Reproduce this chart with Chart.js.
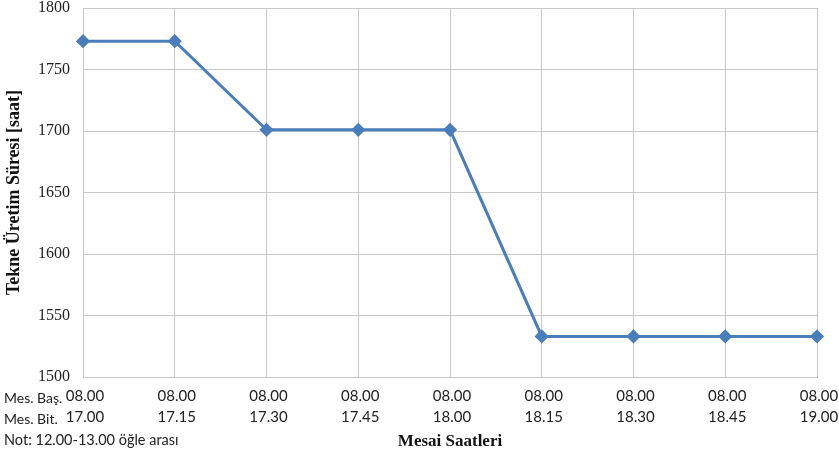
<!DOCTYPE html>
<html>
<head>
<meta charset="utf-8">
<script src="https://cdn.jsdelivr.net/npm/chart.js@4/dist/chart.umd.min.js"></script>
<style>
  html, body { margin: 0; padding: 0; background: #fff; }
</style>
</head>
<body>
<canvas id="chart" width="839" height="457"></canvas>
<script>
// Data
const startTimes = ["08.00", "08.00", "08.00", "08.00", "08.00", "08.00", "08.00", "08.00", "08.00"];
const endTimes = ["17.00", "17.15", "17.30", "17.45", "18.00", "18.15", "18.30", "18.45", "19.00"];
const productionHours = [1773, 1773, 1701, 1701, 1701, 1533, 1533, 1533, 1533];
const yTicks = [1500, 1550, 1600, 1650, 1700, 1750, 1800];

const labels = startTimes.map((s, i) => [s, endTimes[i]]);

const sansFont = "Lato, 'Open Sans', sans-serif";
const serifFont = "'Liberation Serif', 'DejaVu Serif', serif";

// row captions and note on the left under the axis
const sideText = {
  id: "sideText",
  afterDraw(chart) {
    const ctx = chart.ctx;
    ctx.save();
    ctx.fillStyle = "#222";
    ctx.font = "14px " + sansFont;
    ctx.textBaseline = "middle";
    ctx.textAlign = "left";
    ctx.fillText("Mes. Baş.", 4, 398);
    ctx.fillText("Mes. Bit.", 4, 419);
    ctx.font = "14.5px " + sansFont;
    ctx.fillText("Not: 12.00-13.00 öğle arası", 4, 440);
    ctx.restore();
  }
};

new Chart(document.getElementById("chart"), {
  type: "line",
  data: {
    labels: labels,
    datasets: [{
      data: productionHours,
      borderColor: "#4a7ebb",
      backgroundColor: "#4a7ebb",
      borderWidth: 3,
      pointStyle: "rectRot",
      pointRadius: 5,
      pointHoverRadius: 5,
      tension: 0,
      fill: false
    }]
  },
  options: {
    responsive: false,
    animation: false,
    layout: { padding: { top: 0, right: 22, bottom: 0, left: 0 } },
    plugins: {
      legend: { display: false },
      tooltip: { enabled: false }
    },
    scales: {
      x: {
        offset: false,
        grid: { color: "#c8c8c8", drawTicks: false },
        border: { color: "#c8c8c8" },
        ticks: {
          color: "#222",
          font: { family: sansFont, size: 15, lineHeight: 1.45 },
          padding: 8,
          labelOffset: 2,
          maxRotation: 0,
          autoSkip: false
        },
        title: {
          display: true,
          text: "Mesai Saatleri",
          color: "#111",
          font: { family: serifFont, size: 17, weight: "bold" },
          padding: { top: 0, bottom: 5 }
        },
        afterFit(scale) {
          scale.height = 80;
          scale.paddingLeft = 0;
          scale.paddingRight = 0;
        }
      },
      y: {
        min: 1500,
        max: 1800,
        afterBuildTicks(scale) { scale.ticks = yTicks.map(v => ({ value: v })); },
        grid: { color: "#c8c8c8", drawTicks: false },
        border: { color: "#c8c8c8" },
        ticks: {
          color: "#222",
          font: { family: serifFont, size: 16 },
          padding: 13,
          callback: v => String(v)
        },
        title: {
          display: true,
          text: "Tekne Üretim Süresi [saat]",
          color: "#111",
          font: { family: serifFont, size: 18, weight: "bold" },
          padding: { top: 4, bottom: 0 }
        },
        afterFit(scale) {
          scale.width = 83;
          scale.paddingTop = 7;
          scale.paddingBottom = 0;
        }
      }
    }
  },
  plugins: [sideText]
});
</script>
</body>
</html>
